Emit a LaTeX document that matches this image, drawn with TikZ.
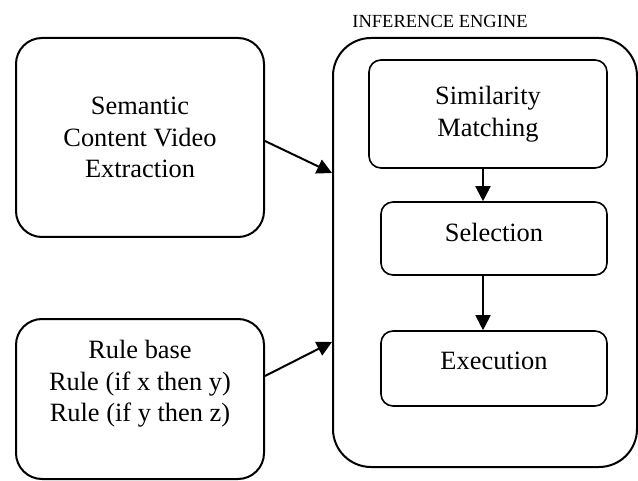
\documentclass[tikz,border=0pt]{standalone}
\usepackage{fontspec}
\setmainfont{Liberation Serif}
\usetikzlibrary{arrows.meta, positioning}

\begin{document}
\begin{tikzpicture}[x=0.5pt, y=-0.5pt, align=center,
    box/.style={draw, rectangle, rounded corners=13pt, line width=1pt, font=\fontsize{13.2}{15.85}\selectfont},
    subbox/.style={draw, rectangle, rounded corners=6pt, line width=0.8pt, font=\fontsize{13.2}{15.85}\selectfont},
    link/.style={-{Triangle[length=7.5pt, width=7.5pt]}, line width=1pt}]
  \useasboundingbox (0,0) rectangle (638,481);

  % inference engine and its steps
  \node [draw, rectangle, rounded corners=19pt, line width=1pt, minimum width=152pt, minimum height=214.5pt] (engine) at (485,252.5) {};
  \node [font=\fontsize{9.25}{11}\selectfont] (title) at (440,21) {INFERENCE ENGINE};

  \node [subbox, minimum width=119pt, minimum height=54pt] (sim) at (488,114)
    {Similarity\\ Matching};
  \node [subbox, minimum width=113pt, minimum height=36.5pt, text depth=6.5pt] (sel) at (494,238.5)
    {Selection};
  \node [subbox, minimum width=113pt, minimum height=37.5pt, text depth=8pt] (exe) at (494,368.5)
    {Execution};

  % inputs
  \node [box, minimum width=124pt, minimum height=99.5pt] (sem) at (140,137.5)
    {Semantic\\ Content Video\\ Extraction};
  \node [box, minimum width=124pt, minimum height=80pt, text depth=18pt] (rule) at (140,399)
    {Rule base\\ Rule (if x then y)\\ Rule (if y then z)};

  \draw[link] ([yshift=-1.75pt]sem.east) -- ([yshift=39.75pt]engine.west);
  \draw[link] ([yshift=11.5pt]rule.east) -- ([yshift=-44.75pt]engine.west);
  \draw[link] ([xshift=-2.5pt]sim.south) -- ([xshift=-5.5pt]sel.north);
  \draw[link] ([xshift=-5.5pt]sel.south) -- ([xshift=-5.5pt]exe.north);
\end{tikzpicture}
\end{document}
